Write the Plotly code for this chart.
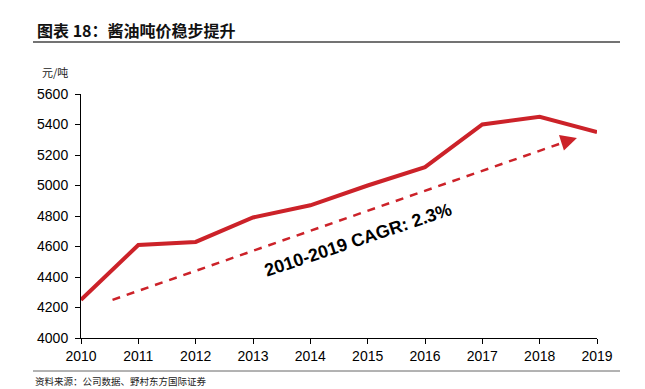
import plotly.graph_objects as go

years = [2010, 2011, 2012, 2013, 2014, 2015, 2016, 2017, 2018, 2019]
price = [4250, 4610, 4630, 4790, 4870, 5000, 5120, 5400, 5450, 5350]
trend_x = [2010.55, 2018.55]
trend_y = [4250, 5300]
arrow_tip = (2018.65, 5312)
cagr_label = "2010-2019 CAGR: 2.3%"
title = "图表 18：酱油吨价稳步提升"
unit = "元/吨"
source = "资料来源：公司数据、野村东方国际证券"

RED = "#CC2229"

W, H = 645, 389
L, R, T, B = 81, 48, 94, 51
pw, ph = W - L - R, H - T - B


def px(x):
    return (x - L) / pw


def py(y):
    return 1 - (y - T) / ph


fig = go.Figure()
fig.add_trace(go.Scatter(x=years, y=price, mode="lines",
                         line=dict(color=RED, width=4), showlegend=False, cliponaxis=False))
fig.add_trace(go.Scatter(x=trend_x, y=trend_y, mode="lines",
                         line=dict(color=RED, width=2.5, dash="8px,7px"), showlegend=False))
fig.add_annotation(x=arrow_tip[0], y=arrow_tip[1], ax=trend_x[1], ay=trend_y[1],
                   xref="x", yref="y", axref="x", ayref="y", text="",
                   showarrow=True, arrowhead=2, arrowsize=1.3, arrowwidth=2.5, arrowcolor=RED)
fig.add_annotation(x=2014.83, y=4645, xref="x", yref="y", text="<b>" + cagr_label + "</b>",
                   showarrow=False, textangle=-18.5,
                   font=dict(family="Liberation Sans, Arial", size=18, color="black"))

fig.add_annotation(x=px(35), y=py(30), xref="paper", yref="paper", text="<b>" + title + "</b>",
                   showarrow=False, xanchor="left", yanchor="middle",
                   font=dict(family="Noto Sans CJK SC", size=16, color="#111"))
fig.add_annotation(x=px(55), y=py(72), xref="paper", yref="paper", text=unit,
                   showarrow=False, xanchor="center", yanchor="middle",
                   font=dict(family="Noto Sans CJK SC", size=11, color="#222"))
fig.add_annotation(x=px(33), y=py(381), xref="paper", yref="paper", text=source,
                   showarrow=False, xanchor="left", yanchor="middle",
                   font=dict(family="Noto Sans CJK SC", size=9.5, color="#222"))

fig.add_shape(type="line", xref="paper", yref="paper",
              x0=px(33), x1=px(620), y0=py(42), y1=py(42),
              line=dict(color="#444", width=1.5))
fig.add_shape(type="line", xref="paper", yref="paper",
              x0=px(33), x1=px(620), y0=py(371), y1=py(371),
              line=dict(color="#666", width=1))

fig.update_layout(
    width=W, height=H, margin=dict(l=L, r=R, t=T, b=B),
    plot_bgcolor="white", paper_bgcolor="white",
    font=dict(family="Liberation Sans, Arial", size=14, color="black"),
    xaxis=dict(range=[2010, 2019], tickmode="array", tickvals=years,
               ticktext=[str(y) for y in years], showgrid=False, zeroline=False,
               showline=True, linecolor="black", linewidth=1,
               ticks="outside", ticklen=5, tickcolor="black"),
    yaxis=dict(range=[4000, 5600], dtick=200, showgrid=False, zeroline=False,
               showline=True, linecolor="black", linewidth=1,
               ticks="outside", ticklen=5, tickcolor="black", ticklabelstandoff=4),
)

fig.write_html("out.html", config={"displayModeBar": False},
               post_script="document.body.style.margin='0';document.body.style.overflow='hidden';")
